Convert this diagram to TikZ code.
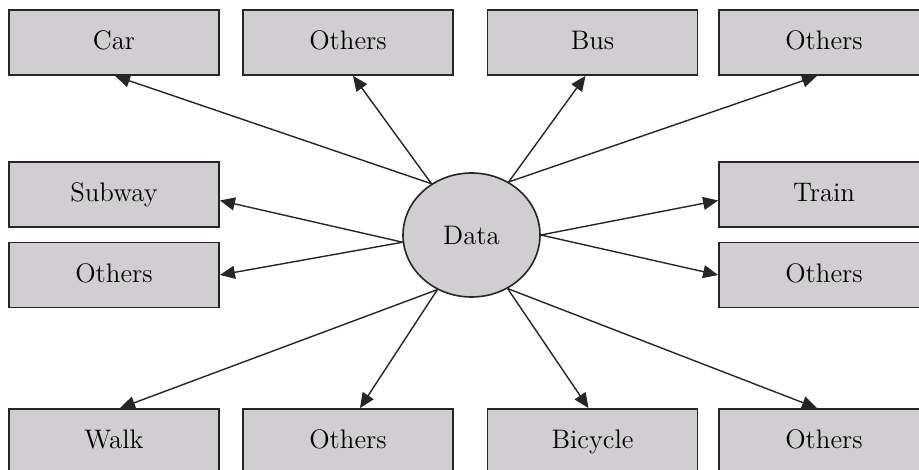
\documentclass[tikz,border=0pt]{standalone}
\usepackage{tikz}
\usetikzlibrary{shapes,arrows.meta,positioning}
\definecolor{boxgray}{RGB}{208,206,208}
\tikzset{
  mode/.style={draw=black!85, fill=boxgray, line width=0.9pt, minimum width=105pt, minimum height=32.5pt, inner sep=0pt, text height=10.5pt, text depth=3pt, font=\fontsize{13.4}{16}\selectfont},
  hub/.style={ellipse, draw=black!85, fill=boxgray, line width=0.8pt, minimum width=68.5pt, minimum height=62pt, inner sep=0pt, font=\fontsize{13.4}{16}\selectfont},
  link/.style={-{Triangle[length=7.5pt,width=6.5pt]}, line width=0.7pt, black!85}
}
\begin{document}
\begin{tikzpicture}[x=0.5pt,y=0.5pt]
            \useasboundingbox (0,0) rectangle (919,470);
            % centre
            \node[hub] (data) at (471.5,235) {Data};
            % top row
            \node[mode] (car) at (114,427.5) {Car};
            \node[mode] (othersA) at (348,427.5) {Others};
            \node[mode] (bus) at (592.5,427.5) {Bus};
            \node[mode] (othersB) at (824,427.5) {Others};
            % sides
            \node[mode] (subway) at (114,275.5) {Subway};
            \node[mode] (othersC) at (114,195) {Others};
            \node[mode] (train) at (824,275.5) {Train};
            \node[mode] (othersD) at (824,195) {Others};
            % bottom row
            \node[mode] (walk) at (114,28.5) {Walk};
            \node[mode] (othersE) at (348,28.5) {Others};
            \node[mode] (bicycle) at (592.5,28.5) {Bicycle};
            \node[mode] (othersF) at (824,28.5) {Others};
            % arrows
            \draw[link] (data.128) -- ([xshift=0.5pt]car.south);
            \draw[link] (data.128) -- ([xshift=2.5pt]othersA.south);
            \draw[link] (data.55) -- ([xshift=-3.5pt]bus.south);
            \draw[link] (data.55) -- ([xshift=-3.5pt]othersB.south);
            \draw[link] (data.186) -- ([yshift=-3pt]subway.east);
            \draw[link] (data.186) -- (othersC.east);
            \draw[link] (data.0) -- ([yshift=-3pt]train.west);
            \draw[link] (data.0) -- (othersD.west);
            \draw[link] (data.238) -- ([xshift=3pt]walk.north);
            \draw[link] (data.238) -- ([xshift=6pt]othersE.north);
            \draw[link] (data.304) -- ([xshift=-2pt]bicycle.north);
            \draw[link] (data.304) -- ([xshift=-3.5pt]othersF.north);
\end{tikzpicture}
\end{document}
